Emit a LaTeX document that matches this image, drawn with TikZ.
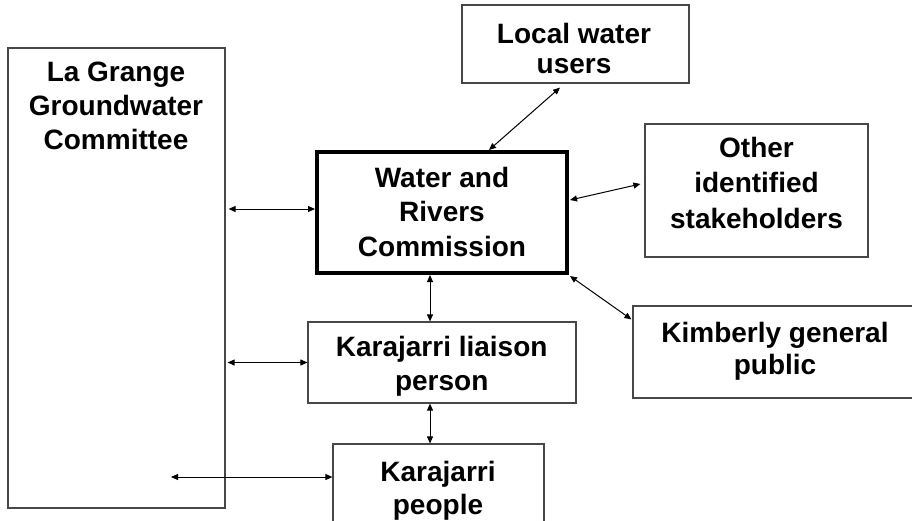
\documentclass[tikz,border=0pt]{standalone}
\usepackage{fontspec}
\setmainfont{Liberation Sans}
\usetikzlibrary{arrows.meta}
\begin{document}
\begin{tikzpicture}[x=1pt,y=-1pt,
  box/.style={draw=black!72,line width=1.2pt,inner sep=0pt,minimum width=#1},
  bigbox/.style={draw=black,line width=4pt,inner sep=0pt},
  txt/.style={anchor=north,inner sep=0pt,align=center,font=\bfseries\fontsize{28}{#1}\selectfont},
  txt/.default=34,
  dbl/.style={draw=black,line width=1pt,{Triangle[length=7pt,width=6pt]}-{Triangle[length=7pt,width=6pt]}}]
\useasboundingbox[fill=white] (0,0) rectangle (912,520);
% boxes
\node[box=217pt,minimum height=460pt] (lg) at (116.5,278) {};
\node[box=227pt,minimum height=78pt] (lwu) at (575.5,44) {};
\node[bigbox,minimum width=250pt,minimum height=121pt] (wrc) at (442,212.5) {};
\node[box=223pt,minimum height=133pt] (ois) at (756.5,190.5) {};
\node[box=280pt,minimum height=92pt] (kim) at (773,352) {};
\node[box=268pt,minimum height=81pt] (lia) at (442,362.5) {};
\node[box=211pt,minimum height=100pt] (pp) at (438.5,494) {};
% texts
\node[txt] (lgt) at (116,62) {La Grange\\Groundwater\\Committee};
\node[txt=30] (lwut) at (574,23) {Local water\\users};
\node[txt=34.5] (wrct) at (442,167) {Water and\\Rivers\\Commission};
\node[txt=35.7] (oist) at (756.5,136.7) {Other\\identified\\stakeholders};
\node[txt=32.6] (kimt) at (775,321.7) {Kimberly general\\public};
\node[txt] (liat) at (441.7,336) {Karajarri liaison\\person};
\node[txt=33] (ppt) at (438,460.7) {Karajarri\\people};
% helper coordinates
\coordinate (w1) at ([yshift=3.5pt]wrc.west);
\coordinate (v1) at ([xshift=-12pt]wrc.south);
\coordinate (v2) at ([xshift=-12pt]lia.south);
\coordinate (pl) at (171,477);
% connectors
\draw[dbl,shorten <=3pt] (lg.east |- w1) -- (w1);
\draw[dbl,shorten <=2pt] (lg.east |- lia.west) -- (lia.west);
\draw[dbl] (pl) -- (pl -| pp.west);
\draw[dbl] (v1) -- (v1 |- lia.north);
\draw[dbl] (v2) -- (v2 |- pp.north);
\draw[dbl] ([xshift=47pt]wrc.north) -- ([xshift=-15.5pt,yshift=-4pt]lwu.south);
\draw[dbl] ([xshift=1pt,yshift=12.5pt]wrc.east) -- ([xshift=-4pt,yshift=6.5pt]ois.west);
\draw[dbl] ([xshift=1pt,yshift=-1pt]wrc.south east) -- ([xshift=-1pt,yshift=-14pt]kim.north west);
\end{tikzpicture}
\end{document}
